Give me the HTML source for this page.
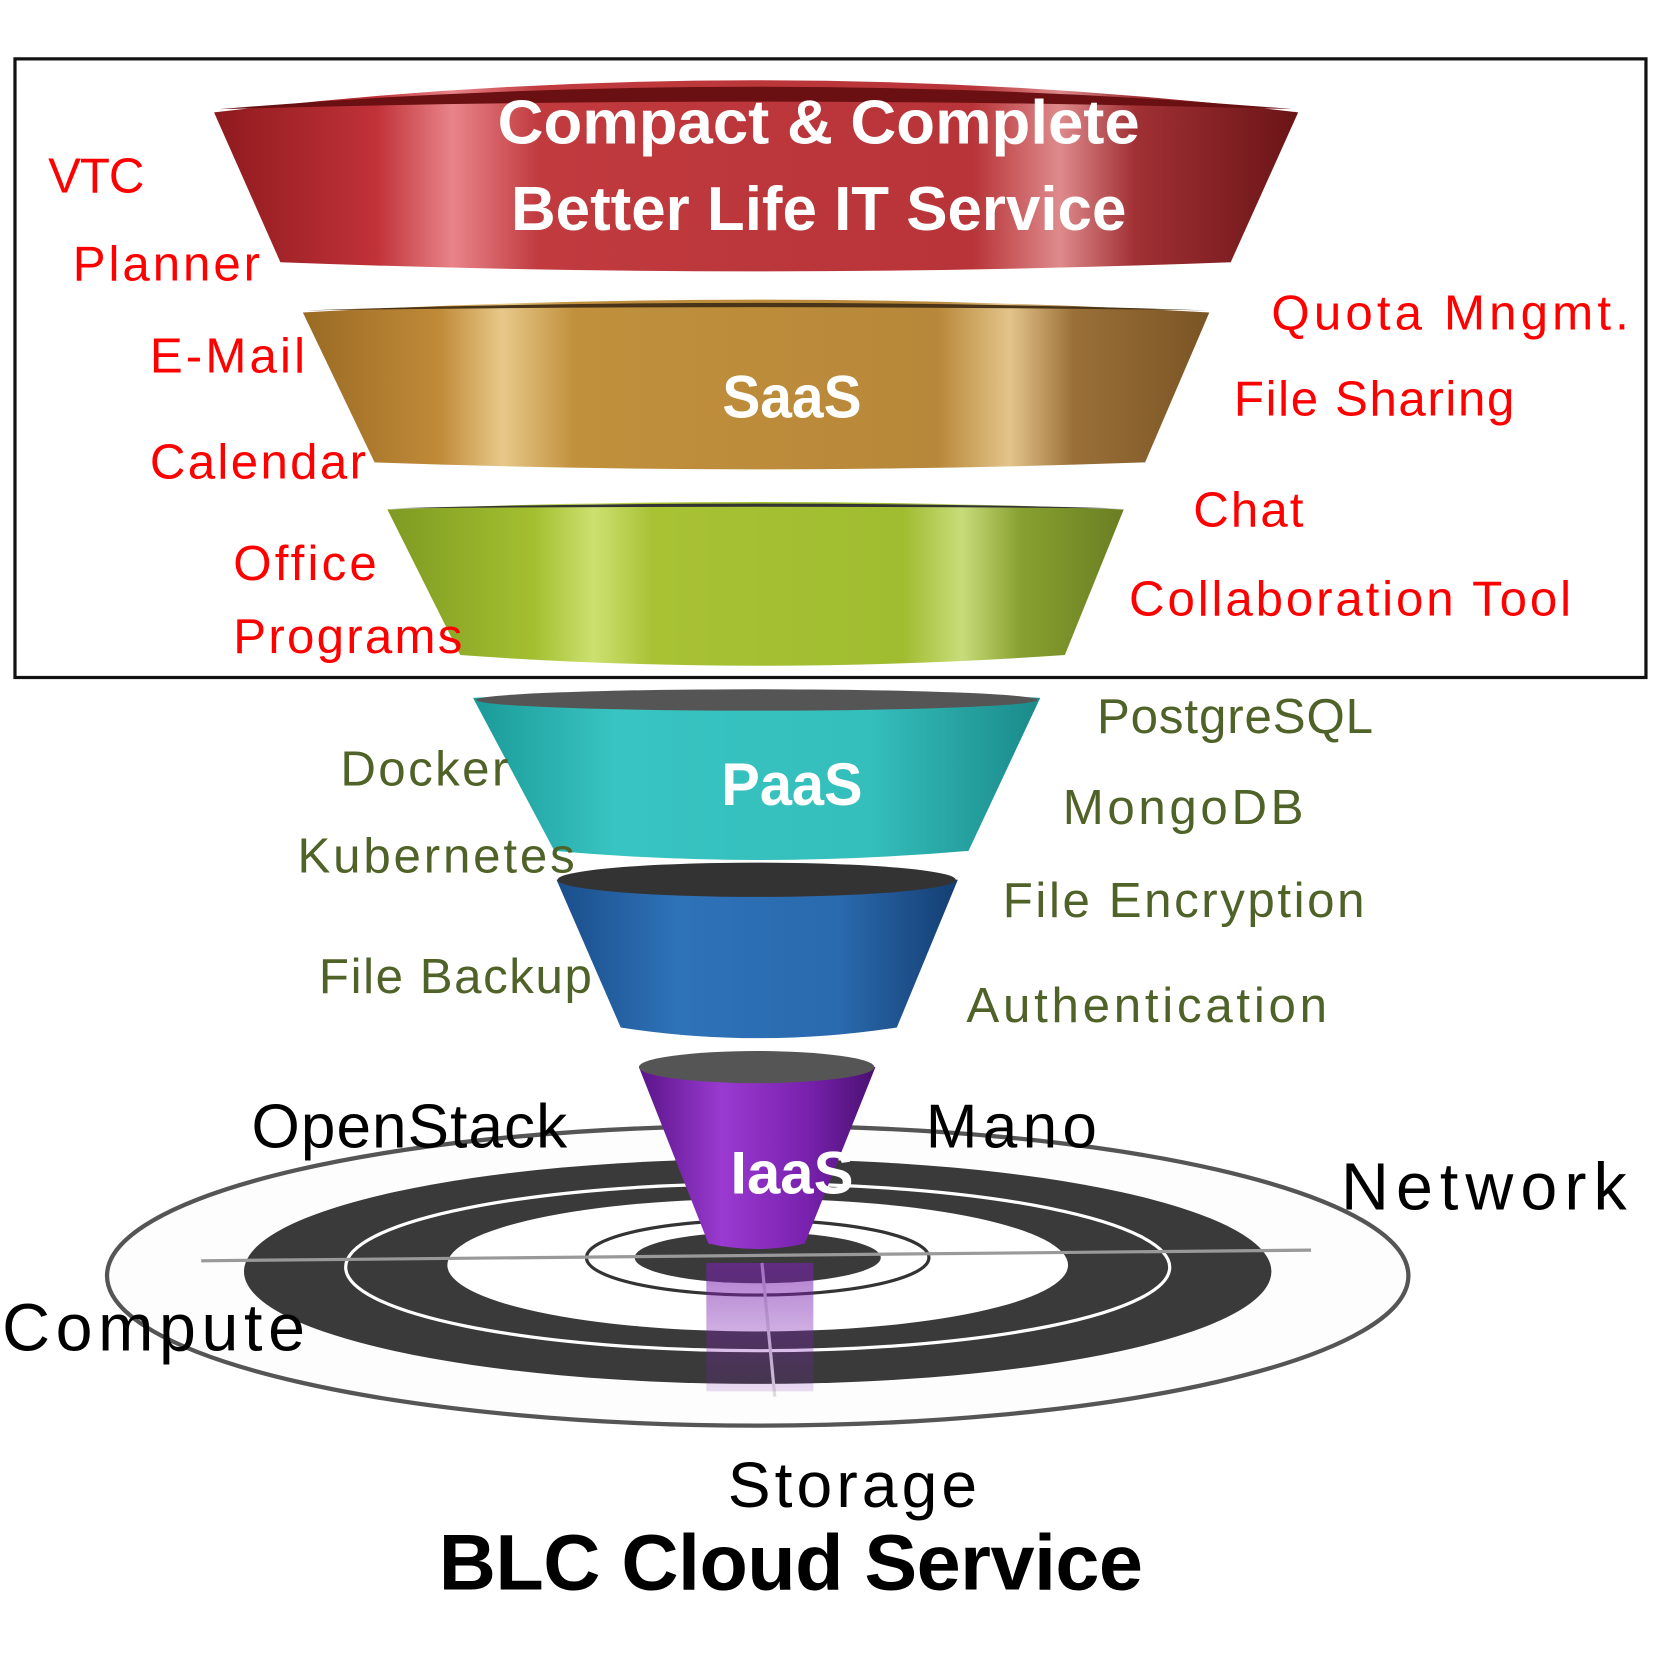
<!DOCTYPE html>
<html><head><meta charset="utf-8"><style>html,body{margin:0;padding:0;background:#fff}svg{display:block}</style></head>
<body>
<svg width="1677" height="1675" viewBox="0 0 1567 1565" preserveAspectRatio="none" xmlns="http://www.w3.org/2000/svg" font-family="Liberation Sans, sans-serif">
<defs>
<linearGradient id="gr" x1="0" x2="1"><stop offset="0" stop-color="#8e1a1e"/><stop offset=".15" stop-color="#c03238"/><stop offset=".22" stop-color="#e8848a"/><stop offset=".3" stop-color="#c03a3e"/><stop offset=".7" stop-color="#b83438"/><stop offset=".78" stop-color="#de8a8c"/><stop offset=".85" stop-color="#a03034"/><stop offset="1" stop-color="#6a1416"/></linearGradient>
<linearGradient id="gg" x1="0" x2="1"><stop offset="0" stop-color="#9a6a24"/><stop offset=".15" stop-color="#c08a38"/><stop offset=".22" stop-color="#e8c88a"/><stop offset=".3" stop-color="#c0903c"/><stop offset=".7" stop-color="#b8883a"/><stop offset=".78" stop-color="#e4c48a"/><stop offset=".85" stop-color="#9a7038"/><stop offset="1" stop-color="#7a5424"/></linearGradient>
<linearGradient id="gn" x1="0" x2="1"><stop offset="0" stop-color="#7e9a22"/><stop offset=".2" stop-color="#a4c030"/><stop offset=".28" stop-color="#cce070"/><stop offset=".36" stop-color="#a8c234"/><stop offset=".7" stop-color="#a0bc30"/><stop offset=".78" stop-color="#c8dc7a"/><stop offset=".86" stop-color="#88a030"/><stop offset="1" stop-color="#6a7e22"/></linearGradient>
<linearGradient id="gt" x1="0" x2="1"><stop offset="0" stop-color="#1a9a98"/><stop offset=".25" stop-color="#38c4c2"/><stop offset=".7" stop-color="#34bebc"/><stop offset="1" stop-color="#1a8a8a"/></linearGradient>
<linearGradient id="gb" x1="0" x2="1"><stop offset="0" stop-color="#1a4e8a"/><stop offset=".3" stop-color="#2e72b8"/><stop offset=".7" stop-color="#2a6aae"/><stop offset="1" stop-color="#143e72"/></linearGradient>
<linearGradient id="gp" x1="0" x2="1"><stop offset="0" stop-color="#5a1488"/><stop offset=".35" stop-color="#9a3ad0"/><stop offset=".7" stop-color="#7a22b0"/><stop offset="1" stop-color="#4a1070"/></linearGradient>
<linearGradient id="gbeam" x1="0" x2="0" y1="0" y2="1"><stop offset="0" stop-color="#7a22b0" stop-opacity=".6"/><stop offset="1" stop-color="#7a22b0" stop-opacity=".15"/></linearGradient>
</defs>

<ellipse cx="708" cy="1192" rx="608" ry="140" fill="#fdfdfd" stroke="#555" stroke-width="4"/>
<ellipse cx="708" cy="1188" rx="480" ry="105" fill="#3a3a3a"/>
<ellipse cx="708" cy="1184" rx="385" ry="78" fill="none" stroke="#fff" stroke-width="3"/>
<ellipse cx="708" cy="1182" rx="290" ry="62" fill="#fff"/>
<ellipse cx="708" cy="1175" rx="160" ry="35" fill="none" stroke="#333" stroke-width="3"/>
<ellipse cx="708" cy="1175" rx="115" ry="24" fill="#3a3a3a"/>
<line x1="188" y1="1178" x2="1225" y2="1168" stroke="#999" stroke-width="3"/>
<line x1="712" y1="1180" x2="724" y2="1305" stroke="#ddd" stroke-width="3"/>
<rect x="660" y="1180" width="100" height="120" fill="url(#gbeam)"/>

<rect x="14" y="55" width="1524" height="578" fill="none" stroke="#111" stroke-width="3"/>

<path d="M200,105 Q706,45 1213,105 L1150,245 Q706,262 262,245 Z" fill="url(#gr)"/>
<path d="M205,102 Q706,60 1208,102 Q706,88 205,102 Z" fill="#6a1012"/>
<path d="M283,292 Q706,268 1130,292 L1070,432 Q706,445 350,432 Z" fill="url(#gg)"/>
<path d="M286,290 Q706,276 1128,290 Q706,284 286,290 Z" fill="#4a3418"/>
<path d="M362,476 Q706,462 1050,476 L995,612 Q706,632 430,612 Z" fill="url(#gn)"/>
<path d="M364,475 Q706,466 1048,475 Q706,472 364,475 Z" fill="#333"/>
<path d="M442,652 Q706,640 972,652 L905,795 Q706,812 518,795 Z" fill="url(#gt)"/>
<ellipse cx="707" cy="654" rx="262" ry="10" fill="#555"/>
<path d="M520,822 Q708,808 895,822 L838,960 Q708,980 580,960 Z" fill="url(#gb)"/>
<ellipse cx="707" cy="822" rx="186" ry="16" fill="#333"/>
<path d="M597,997 Q708,985 818,997 L752,1162 Q708,1172 662,1162 Z" fill="url(#gp)"/>
<ellipse cx="707" cy="997" rx="110" ry="15" fill="#555"/>

<g fill="#fff" font-weight="bold" text-anchor="middle">
<text x="765" y="134" font-size="58" textLength="600" lengthAdjust="spacingAndGlyphs">Compact &amp; Complete</text>
<text x="765" y="215" font-size="58" textLength="575" lengthAdjust="spacingAndGlyphs">Better Life IT Service</text>
<text x="740" y="390" font-size="56" textLength="130" lengthAdjust="spacingAndGlyphs">SaaS</text>
<text x="740" y="752" font-size="56" textLength="132" lengthAdjust="spacingAndGlyphs">PaaS</text>
<text x="740" y="1115" font-size="56" textLength="115" lengthAdjust="spacingAndGlyphs">IaaS</text>
</g>

<g fill="#ff0000" font-size="46" lengthAdjust="spacingAndGlyphs">
<text x="45" y="180" textLength="90">VTC</text>
<text x="68" y="262" textLength="175">Planner</text>
<text x="140" y="348" textLength="145">E-Mail</text>
<text x="140" y="447" textLength="202">Calendar</text>
<text x="218" y="542" textLength="134">Office</text>
<text x="218" y="610" textLength="214">Programs</text>
<text x="1188" y="308" textLength="334">Quota Mngmt.</text>
<text x="1153" y="388" textLength="262">File Sharing</text>
<text x="1115" y="492" textLength="103">Chat</text>
<text x="1055" y="575" textLength="413">Collaboration Tool</text>
</g>

<g fill="#4f6228" font-size="46" lengthAdjust="spacingAndGlyphs">
<text x="1025" y="685" textLength="258">PostgreSQL</text>
<text x="993" y="770" textLength="225">MongoDB</text>
<text x="937" y="857" textLength="338">File Encryption</text>
<text x="903" y="955" textLength="337">Authentication</text>
<text x="318" y="734" textLength="157">Docker</text>
<text x="278" y="815" textLength="259">Kubernetes</text>
<text x="298" y="928" textLength="255">File Backup</text>
</g>

<g fill="#000" lengthAdjust="spacingAndGlyphs">
<text x="235" y="1072" font-size="58" textLength="295">OpenStack</text>
<text x="865" y="1072" font-size="58" textLength="160">Mano</text>
<text x="1253" y="1130" font-size="62" textLength="267">Network</text>
<text x="2" y="1262" font-size="62" textLength="283">Compute</text>
<text x="680" y="1408" font-size="60" textLength="233">Storage</text>
<text x="410" y="1485" font-size="74" font-weight="bold" textLength="658">BLC Cloud Service</text>
</g>
</svg>
</body></html>
